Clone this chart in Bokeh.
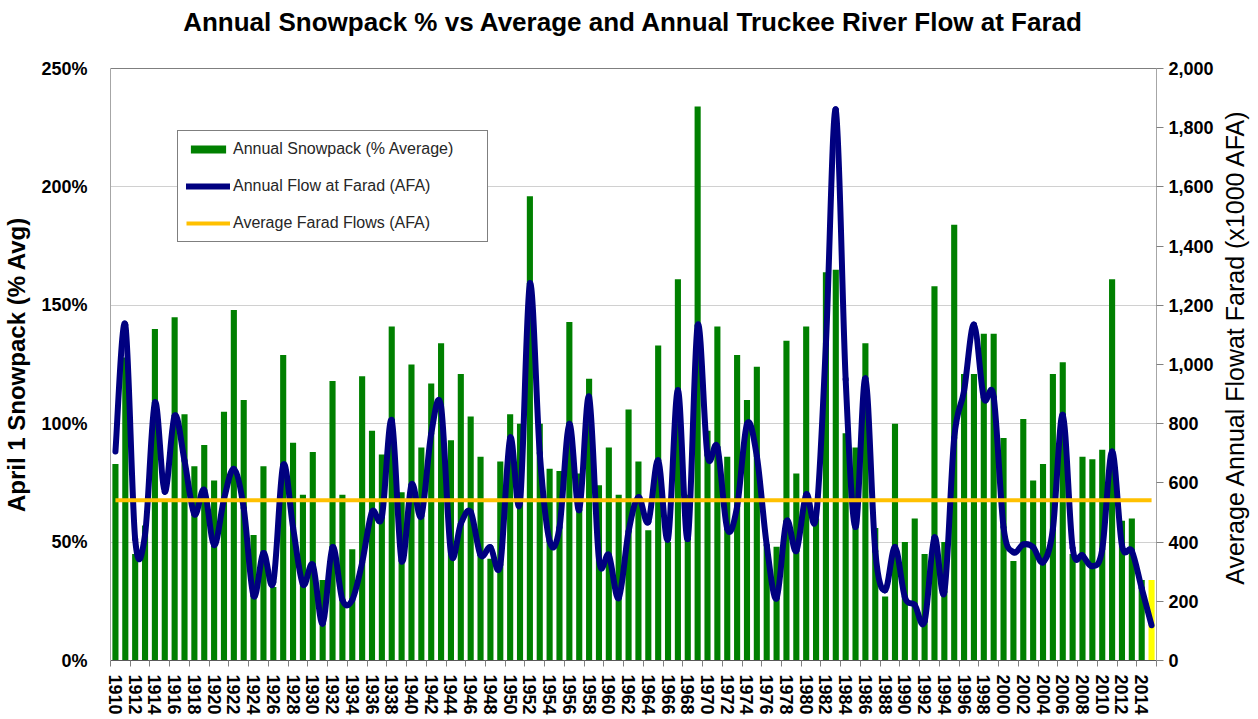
import math
from bokeh.plotting import figure
from bokeh.models import (Range1d, LinearAxis, FixedTicker, PrintfTickFormatter,
                          NumeralTickFormatter, ColumnDataSource, Legend, LegendItem,
                          Span, Title, Label)
from bokeh.embed import file_html
from bokeh.resources import INLINE

years = list(range(1910, 2016))
snowpack = [83, 128, 45, 57, 140, 68, 145, 104, 82, 91,
            76, 105, 148, 110, 53, 82, 31, 129, 92, 70,
            88, 34, 118, 70, 47, 120, 97, 87, 141, 71,
            125, 90, 117, 134, 93, 121, 103, 86, 43, 84,
            104, 100, 196, 100, 81, 80, 143, 79, 119, 74,
            90, 70, 106, 84, 55, 133, 50, 161, 70, 234,
            97, 141, 86, 129, 110, 124, 49, 48, 135, 79,
            141, 60, 164, 165, 96, 90, 134, 56, 27, 100,
            50, 60, 45, 158, 50, 184, 121, 121, 138, 138,
            94, 42, 102, 76, 83, 121, 126, 45, 86, 85,
            89, 161, 59, 60, 34, 34]
flow = [706, 1135, 410, 425, 872, 570, 827, 675, 494, 576,
        390, 545, 647, 515, 218, 363, 264, 660, 449, 257,
        323, 125, 383, 205, 205, 330, 502, 485, 812, 337,
        594, 488, 766, 858, 363, 462, 502, 356, 383, 323,
        752, 535, 1274, 700, 403, 449, 799, 508, 891, 343,
        356, 211, 436, 552, 468, 676, 411, 913, 411, 1132,
        693, 721, 445, 520, 799, 690, 390, 210, 470, 370,
        561, 485, 1070, 1862, 950, 451, 953, 370, 237, 383,
        214, 188, 132, 416, 231, 752, 911, 1135, 887, 890,
        450, 366, 392, 383, 332, 444, 830, 380, 355, 319,
        375, 706, 389, 370, 244, 119]
avg_flow = 541
current_year = 2015
tick_years = list(range(1910, 2016, 2))
left_ticks = [0, 50, 100, 150, 200, 250]
right_ticks = list(range(0, 2001, 200))

assert len(snowpack) == len(years) == len(flow)

GREEN = "#008000"
YELLOW = "#FFFF00"
NAVY = "#000080"
ORANGE = "#FFC000"
FONT = "Liberation Sans"
FW, FH = 1046, 592

bar_colors = [YELLOW if y == current_year else GREEN for y in years]

p = figure(frame_width=FW, frame_height=FH,
           x_range=Range1d(years[0] - 0.5, years[-1] + 0.5),
           y_range=Range1d(0, 250),
           output_backend="svg", toolbar_location=None,
           min_border_left=109, min_border_right=97, min_border_top=68,
           min_border_bottom=40, background_fill_color="white",
           border_fill_color="white")
p.outline_line_color = None
p.extra_y_ranges = {"flow": Range1d(0, 2000)}

# title: an invisible spacer next to the frame, then the real title above it
p.title.text = ""
p.add_layout(Title(text=" ", text_font_size="10px", standoff=19), "above")
p.add_layout(Title(text="Annual Snowpack % vs Average and Annual Truckee River Flow at Farad",
                   align="center", vertical_align="bottom", standoff=0,
                   text_font=FONT, text_font_size="26px", text_font_style="bold",
                   text_color="black"), "above")

# bars
src = ColumnDataSource(dict(year=years, snow=snowpack, color=bar_colors))
bars = p.vbar(x="year", top="snow", width=0.62, fill_color="color",
              line_color=None, source=src)

# smoothed flow curve (bezier segments through the data points)
n = len(years)
bx0, by0, bx1, by1, c0x, c0y, c1x, c1y = [], [], [], [], [], [], [], []
for i in range(n - 1):
    i0 = max(i - 1, 0)
    i3 = min(i + 2, n - 1)
    xa, ya_ = years[i0], flow[i0]
    xb, yb = years[i], flow[i]
    xc, yc = years[i + 1], flow[i + 1]
    xd, yd = years[i3], flow[i3]
    bx0.append(xb); by0.append(yb); bx1.append(xc); by1.append(yc)
    c0x.append(xb + (xc - xa) / 6.0); c0y.append(yb + (yc - ya_) / 6.0)
    c1x.append(xc - (xd - xb) / 6.0); c1y.append(yc - (yd - yb) / 6.0)
curve = p.bezier(x0=bx0, y0=by0, x1=bx1, y1=by1, cx0=c0x, cy0=c0y, cx1=c1x, cy1=c1y,
                 line_color=NAVY, line_width=6, line_cap="round", y_range_name="flow")

# average line
avg = p.line(x=[years[0], years[-1]], y=[avg_flow, avg_flow], line_color=ORANGE,
             line_width=4, y_range_name="flow")

# top border
p.add_layout(Span(location=250, dimension="width", line_color="black", line_width=1))

# grid
p.xgrid.visible = False
p.ygrid.ticker = FixedTicker(ticks=left_ticks)
p.ygrid.grid_line_color = "#d0d0d0"
p.ygrid.grid_line_width = 1

# left axis
yl = p.yaxis[0]
yl.ticker = FixedTicker(ticks=left_ticks)
yl.formatter = PrintfTickFormatter(format="%d%%")
yl.major_tick_line_color = None
yl.minor_tick_line_color = None
yl.axis_line_color = "#a6a6a6"
yl.major_label_text_font = FONT
yl.major_label_text_font_size = "18px"
yl.major_label_text_font_style = "bold"
yl.major_label_text_color = "black"
yl.major_label_standoff = 17
yl.axis_label = "April 1 Snowpack (% Avg)"
yl.axis_label_text_font = FONT
yl.axis_label_text_font_size = "24px"
yl.axis_label_text_font_style = "bold"
yl.axis_label_text_color = "black"
yl.axis_label_standoff = 8

# right axis
ra = LinearAxis(y_range_name="flow", ticker=FixedTicker(ticks=right_ticks),
                formatter=NumeralTickFormatter(format="0,0"))
ra.axis_line_color = "#a6a6a6"
ra.major_tick_line_color = "#808080"
ra.major_tick_out = 7
ra.major_tick_in = 0
ra.minor_tick_line_color = None
ra.major_label_text_font = FONT
ra.major_label_text_font_size = "18px"
ra.major_label_text_font_style = "bold"
ra.major_label_text_color = "black"
ra.major_label_standoff = 5
p.add_layout(ra, "right")

# right axis title, reading bottom-to-top as in the reference
p.add_layout(Label(x=18, y=FH * 0.53, x_units="screen", y_units="screen",
                   text="Average Annual Flowat Farad (x1000 AFA)", angle=math.pi / 2,
                   text_align="center", text_baseline="middle",
                   text_font=FONT, text_font_size="25px", text_color="black"), "right")

# bottom axis
xb_ = p.xaxis[0]
xb_.ticker = FixedTicker(ticks=tick_years,
                         minor_ticks=[y - 0.5 for y in range(1910, 2017, 2)])
xb_.major_tick_line_color = None
xb_.minor_tick_line_color = "#808080"
xb_.minor_tick_out = 6
xb_.minor_tick_in = 0
xb_.axis_line_color = "#595959"
xb_.major_label_orientation = "vertical"
xb_.major_label_text_font = FONT
xb_.major_label_text_font_size = "18px"
xb_.major_label_text_font_style = "bold"
xb_.major_label_text_color = "black"
xb_.major_label_standoff = 8

# legend
legend = Legend(items=[
    LegendItem(label="Annual Snowpack (% Average)", renderers=[bars], index=0),
    LegendItem(label="Annual Flow at Farad (AFA)", renderers=[curve], index=0),
    LegendItem(label="Average Farad Flows (AFA)", renderers=[avg]),
], location=(67, 418))
legend.border_line_color = "black"
legend.border_line_width = 1
legend.background_fill_color = "white"
legend.background_fill_alpha = 1
legend.padding = 8
legend.margin = 0
legend.spacing = 17
legend.glyph_width = 44
legend.glyph_height = 10
legend.label_height = 20
legend.label_width = 246
legend.label_standoff = 3
legend.label_text_font = FONT
legend.label_text_font_size = "16px"
legend.label_text_color = "#262626"
p.add_layout(legend)

open("out.html", "w").write(file_html(p, INLINE))
